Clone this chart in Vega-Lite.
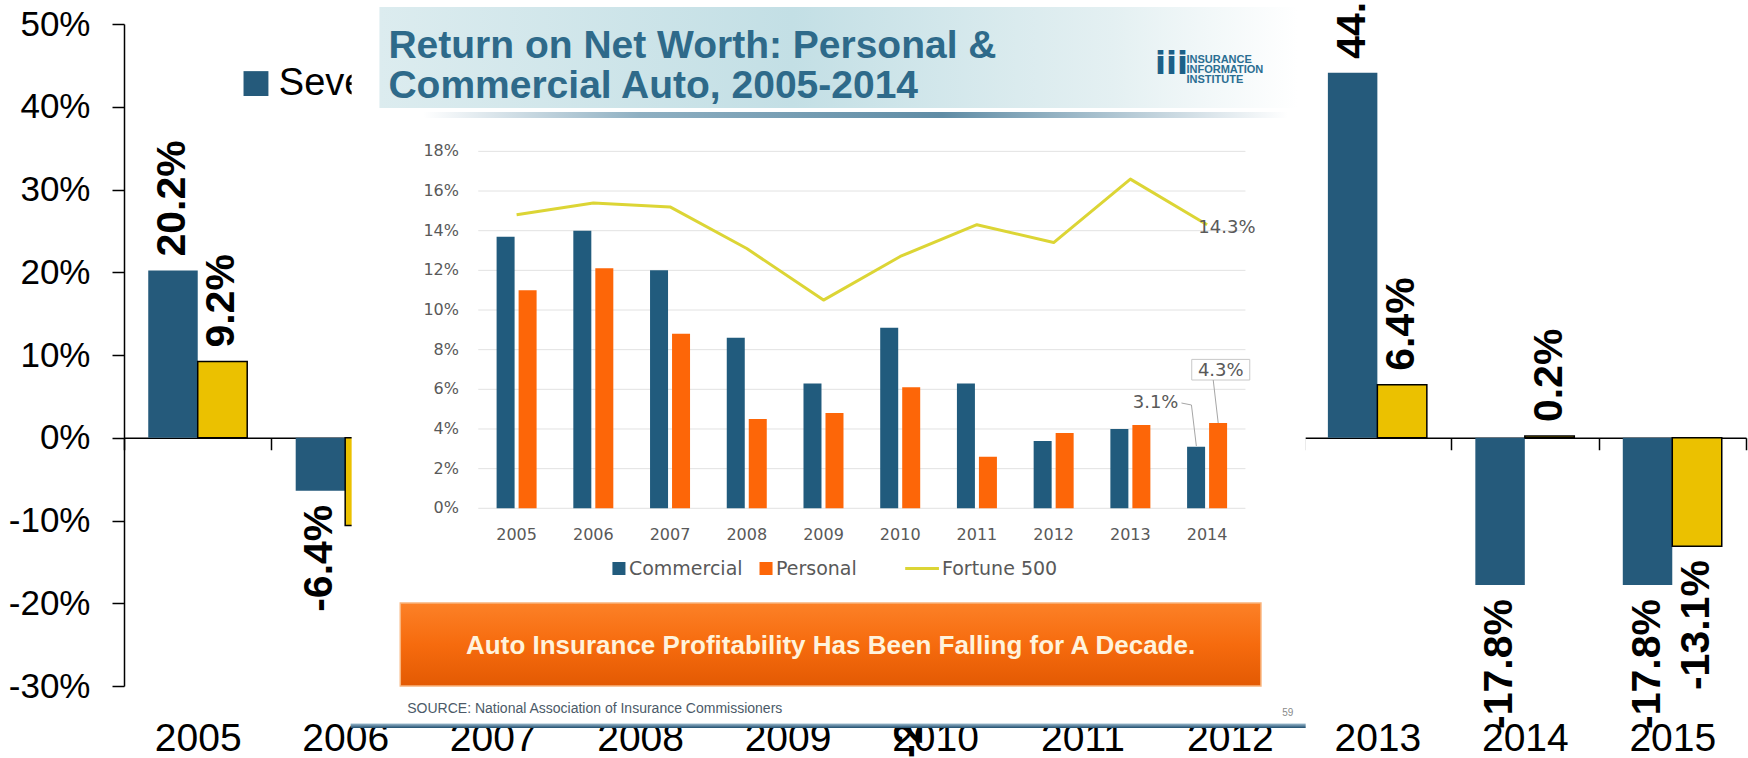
{
  "$schema": "https://vega.github.io/schema/vega-lite/v6.json",
  "width": 1622,
  "height": 662,
  "autosize": {"type": "none"},
  "padding": {"left": 124, "top": 24, "right": 2, "bottom": 72},
  "background": "#ffffff",
  "config": {"view": {"stroke": null}, "font": "Liberation Sans"},
  "datasets": {
    "bg": [
      {"year": "2005", "series": "Severity", "value": 20.2},
      {"year": "2005", "series": "Frequency", "value": 9.2},
      {"year": "2006", "series": "Severity", "value": -6.4},
      {"year": "2006", "series": "Frequency", "value": -10.6},
      {"year": "2010", "series": "Severity", "value": -21.3},
      {"year": "2013", "series": "Severity", "value": 44.1},
      {"year": "2013", "series": "Frequency", "value": 6.4},
      {"year": "2014", "series": "Severity", "value": -17.8},
      {"year": "2014", "series": "Frequency", "value": 0.2},
      {"year": "2015", "series": "Severity", "value": -17.8},
      {"year": "2015", "series": "Frequency", "value": -13.1}
    ],
    "auto": [
      {"year": 2005, "commercial": 13.7, "personal": 11.0, "fortune": 14.8},
      {"year": 2006, "commercial": 14.0, "personal": 12.1, "fortune": 15.4},
      {"year": 2007, "commercial": 12.0, "personal": 8.8, "fortune": 15.2},
      {"year": 2008, "commercial": 8.6, "personal": 4.5, "fortune": 13.1},
      {"year": 2009, "commercial": 6.3, "personal": 4.8, "fortune": 10.5},
      {"year": 2010, "commercial": 9.1, "personal": 6.1, "fortune": 12.7},
      {"year": 2011, "commercial": 6.3, "personal": 2.6, "fortune": 14.3},
      {"year": 2012, "commercial": 3.4, "personal": 3.8, "fortune": 13.4},
      {"year": 2013, "commercial": 4.0, "personal": 4.2, "fortune": 16.6},
      {"year": 2014, "commercial": 3.1, "personal": 4.3, "fortune": 14.3}
    ],
    "grid": [
      {"pct": 0}, {"pct": 2}, {"pct": 4}, {"pct": 6}, {"pct": 8},
      {"pct": 10}, {"pct": 12}, {"pct": 14}, {"pct": 16}, {"pct": 18}
    ]
  },
  "resolve": {"scale": {"x": "independent", "y": "independent", "color": "independent"}},
  "layer": [
    {
      "data": {"name": "bg"},
      "layer": [
        {
          "mark": {"type": "bar", "stroke": "#000000"},
          "encoding": {
            "x": {
              "field": "year", "type": "nominal",
              "scale": {"domain": ["2005", "2006", "2007", "2008", "2009", "2010", "2011", "2012", "2013", "2014", "2015"], "paddingInner": 0, "paddingOuter": 0},
              "axis": {"title": null, "orient": "bottom", "offset": -248.25, "labelAngle": 0, "labelFontSize": 39, "labelColor": "#000000", "labelFont": "Liberation Sans", "labelBaseline": "alphabetic", "labelPadding": 301, "tickBand": "extent", "tickSize": 12, "tickColor": "#000000", "tickWidth": 1.5, "domainColor": "#000000", "domainWidth": 1.5, "grid": false, "zindex": 0}
            },
            "xOffset": {"field": "series", "type": "nominal", "scale": {"domain": ["Severity", "Frequency"], "paddingInner": 0, "paddingOuter": 0.49}},
            "y": {
              "field": "value", "type": "quantitative",
              "scale": {"domain": [-30, 50], "nice": false, "zero": false},
              "axis": {"title": null, "values": [-30, -20, -10, 0, 10, 20, 30, 40, 50], "labelExpr": "datum.value + '%'", "labelFontSize": 35, "labelColor": "#000000", "labelFont": "Liberation Sans", "labelPadding": 22, "tickSize": 12, "tickColor": "#000000", "tickWidth": 1.5, "domainColor": "#000000", "domainWidth": 1.5, "grid": false, "zindex": 0}
            },
            "color": {"field": "series", "type": "nominal", "scale": {"domain": ["Severity", "Frequency"], "range": ["#255a7b", "#ebc100"]}, "legend": null},
            "strokeWidth": {"field": "series", "type": "nominal", "scale": {"domain": ["Severity", "Frequency"], "range": [0, 1.5]}, "legend": null}
          }
        },
        {
          "transform": [{"filter": "datum.value >= 0"}, {"calculate": "toString(datum.value) + '%'", "as": "label"}],
          "mark": {"type": "text", "angle": 270, "align": "left", "baseline": "middle", "dx": 14, "fontSize": 41, "fontWeight": "bold", "color": "#000000", "font": "Liberation Sans"},
          "encoding": {
            "x": {"field": "year", "type": "nominal"},
            "xOffset": {"field": "series", "type": "nominal"},
            "y": {"field": "value", "type": "quantitative"},
            "text": {"field": "label", "type": "nominal"}
          }
        },
        {
          "transform": [{"filter": "datum.value < 0"}, {"calculate": "toString(datum.value) + '%'", "as": "label"}],
          "mark": {"type": "text", "angle": 270, "align": "right", "baseline": "middle", "dx": -14, "fontSize": 41, "fontWeight": "bold", "color": "#000000", "font": "Liberation Sans"},
          "encoding": {
            "x": {"field": "year", "type": "nominal"},
            "xOffset": {"field": "series", "type": "nominal"},
            "y": {"field": "value", "type": "quantitative"},
            "text": {"field": "label", "type": "nominal"}
          }
        },
        {
          "data": {"values": [{}]},
          "mark": {"type": "square", "size": 620, "color": "#255a7b", "opacity": 1, "filled": true},
          "encoding": {
            "x": {"datum": "2005", "type": "nominal", "bandPosition": 0.895},
            "y": {"datum": 42.8, "type": "quantitative"}
          }
        },
        {
          "data": {"values": [{}]},
          "mark": {"type": "text", "text": "Severity", "align": "left", "baseline": "middle", "fontSize": 38, "color": "#000000", "font": "Liberation Sans"},
          "encoding": {
            "x": {"datum": "2006", "type": "nominal", "bandPosition": 0.05},
            "y": {"datum": 42.7, "type": "quantitative"}
          }
        }
      ]
    },
    {
      "layer": [
        {
          "data": {"values": [{}]},
          "mark": {"type": "rect", "fill": "#ffffff", "strokeWidth": 0},
          "encoding": {
            "x": {"datum": 2002.85, "type": "quantitative", "scale": {"domain": [1999.948, 2020.959], "nice": false, "zero": false}, "axis": null},
            "x2": {"datum": 2015.285},
            "y": {"datum": 25.9, "type": "quantitative", "scale": {"domain": [-8.961, 24.423], "nice": false, "zero": false}, "axis": null},
            "y2": {"datum": -11.08}
          }
        },
        {
          "data": {"values": [{}]},
          "mark": {"type": "rect", "strokeWidth": 0, "fill": {"gradient": "linear", "x1": 0, "y1": 0, "x2": 1, "y2": 0, "stops": [{"offset": 0, "color": "#dcecef"}, {"offset": 0.45, "color": "#c3dfe5"}, {"offset": 0.8, "color": "#e4f0f2"}, {"offset": 1, "color": "#ffffff"}]}},
          "encoding": {
            "x": {"datum": 2003.212, "type": "quantitative", "axis": null},
            "x2": {"datum": 2015.182},
            "y": {"datum": 25.28, "type": "quantitative", "axis": null},
            "y2": {"datum": 20.19}
          }
        },
        {
          "data": {"values": [{}]},
          "mark": {"type": "rect", "strokeWidth": 0, "fill": {"gradient": "linear", "x1": 0, "y1": 0, "x2": 1, "y2": 0, "stops": [{"offset": 0, "color": "#ffffff"}, {"offset": 0.25, "color": "#8fb0c2"}, {"offset": 0.6, "color": "#5f8ca5"}, {"offset": 1, "color": "#ffffff"}]}},
          "encoding": {
            "x": {"datum": 2003.782, "type": "quantitative", "axis": null},
            "x2": {"datum": 2015.052},
            "y": {"datum": 19.985, "type": "quantitative", "axis": null},
            "y2": {"datum": 19.682}
          }
        },
        {
          "data": {"values": [{}]},
          "mark": {"type": "text", "text": "Return on Net Worth: Personal &", "align": "left", "baseline": "alphabetic", "fontSize": 39, "fontWeight": "bold", "color": "#2e6a8a", "font": "Liberation Sans"},
          "encoding": {
            "x": {"datum": 2003.329, "type": "quantitative", "axis": null},
            "y": {"datum": 22.71, "type": "quantitative", "axis": null}
          }
        },
        {
          "data": {"values": [{}]},
          "mark": {"type": "text", "text": "Commercial Auto, 2005-2014", "align": "left", "baseline": "alphabetic", "fontSize": 39, "fontWeight": "bold", "color": "#2e6a8a", "font": "Liberation Sans"},
          "encoding": {
            "x": {"datum": 2003.329, "type": "quantitative", "axis": null},
            "y": {"datum": 20.69, "type": "quantitative", "axis": null}
          }
        },
        {
          "data": {"values": [{}]},
          "mark": {"type": "text", "text": "iii", "align": "center", "baseline": "alphabetic", "fontSize": 32, "fontWeight": "bold", "color": "#1c6088", "font": "DejaVu Sans"},
          "encoding": {
            "x": {"datum": 2013.536, "type": "quantitative", "axis": null},
            "y": {"datum": 21.9, "type": "quantitative", "axis": null}
          }
        },
        {
          "data": {"values": [{}]},
          "mark": {"type": "text", "text": ["INSURANCE", "INFORMATION", "INSTITUTE"], "lineHeight": 10, "align": "left", "baseline": "middle", "fontSize": 11, "fontWeight": "bold", "color": "#2a6e92", "font": "Liberation Sans"},
          "encoding": {
            "x": {"datum": 2013.731, "type": "quantitative", "axis": null},
            "y": {"datum": 22.61, "type": "quantitative", "axis": null}
          }
        },
        {
          "data": {"name": "grid"},
          "mark": {"type": "rule", "color": "#e2e2e2", "strokeWidth": 1},
          "encoding": {
            "x": {"datum": 2004.5, "type": "quantitative", "axis": null},
            "x2": {"datum": 2014.5},
            "y": {"field": "pct", "type": "quantitative", "axis": null}
          }
        },
        {
          "data": {"name": "grid"},
          "transform": [{"calculate": "datum.pct + '%'", "as": "label"}],
          "mark": {"type": "text", "align": "right", "baseline": "middle", "fontSize": 16, "color": "#595959", "font": "DejaVu Sans"},
          "encoding": {
            "x": {"datum": 2004.249, "type": "quantitative", "axis": null},
            "y": {"field": "pct", "type": "quantitative", "axis": null},
            "text": {"field": "label", "type": "nominal"}
          }
        },
        {
          "data": {"name": "auto"},
          "mark": {"type": "bar", "width": 18, "xOffset": -11, "color": "#215b7d"},
          "encoding": {
            "x": {"field": "year", "type": "quantitative", "scale": {"domain": [1999.948, 2020.959], "nice": false, "zero": false}, "axis": null},
            "y": {"field": "commercial", "type": "quantitative", "scale": {"domain": [-8.961, 24.423], "nice": false, "zero": false}, "axis": null}
          }
        },
        {
          "data": {"name": "auto"},
          "mark": {"type": "bar", "width": 18, "xOffset": 11, "color": "#fd6608"},
          "encoding": {
            "x": {"field": "year", "type": "quantitative", "axis": null},
            "y": {"field": "personal", "type": "quantitative", "axis": null}
          }
        },
        {
          "data": {"name": "auto"},
          "mark": {"type": "line", "color": "#dcd535", "strokeWidth": 3, "strokeJoin": "round"},
          "encoding": {
            "x": {"field": "year", "type": "quantitative", "axis": null},
            "y": {"field": "fortune", "type": "quantitative", "axis": null}
          }
        },
        {
          "data": {"name": "auto"},
          "mark": {"type": "text", "align": "center", "baseline": "middle", "fontSize": 16, "color": "#595959", "font": "DejaVu Sans"},
          "encoding": {
            "x": {"field": "year", "type": "quantitative", "axis": null},
            "y": {"datum": -1.35, "type": "quantitative", "axis": null},
            "text": {"field": "year", "type": "nominal"}
          }
        },
        {
          "data": {"values": [{}]},
          "mark": {"type": "text", "text": "14.3%", "align": "left", "baseline": "middle", "fontSize": 18, "color": "#595959", "font": "DejaVu Sans"},
          "encoding": {
            "x": {"datum": 2013.886, "type": "quantitative", "axis": null},
            "y": {"datum": 14.13, "type": "quantitative", "axis": null}
          }
        },
        {
          "data": {"values": [{}]},
          "mark": {"type": "text", "text": "3.1%", "align": "right", "baseline": "middle", "fontSize": 18, "color": "#595959", "font": "DejaVu Sans"},
          "encoding": {
            "x": {"datum": 2013.627, "type": "quantitative", "axis": null},
            "y": {"datum": 5.31, "type": "quantitative", "axis": null}
          }
        },
        {
          "data": {"values": [{}]},
          "mark": {"type": "rule", "color": "#a6a6a6", "strokeWidth": 1},
          "encoding": {
            "x": {"datum": 2013.666, "type": "quantitative", "axis": null},
            "x2": {"datum": 2013.796},
            "y": {"datum": 5.31, "type": "quantitative", "axis": null},
            "y2": {"datum": 5.21}
          }
        },
        {
          "data": {"values": [{}]},
          "mark": {"type": "rule", "color": "#a6a6a6", "strokeWidth": 1},
          "encoding": {
            "x": {"datum": 2013.796, "type": "quantitative", "axis": null},
            "x2": {"datum": 2013.86},
            "y": {"datum": 5.21, "type": "quantitative", "axis": null},
            "y2": {"datum": 3.14}
          }
        },
        {
          "data": {"values": [{}]},
          "mark": {"type": "rect", "fill": "#ffffff", "stroke": "#c8c8c8", "strokeWidth": 1},
          "encoding": {
            "x": {"datum": 2013.8, "type": "quantitative", "axis": null},
            "x2": {"datum": 2014.556},
            "y": {"datum": 7.51, "type": "quantitative", "axis": null},
            "y2": {"datum": 6.47}
          }
        },
        {
          "data": {"values": [{}]},
          "mark": {"type": "text", "text": "4.3%", "align": "center", "baseline": "middle", "fontSize": 18, "color": "#595959", "font": "DejaVu Sans"},
          "encoding": {
            "x": {"datum": 2014.178, "type": "quantitative", "axis": null},
            "y": {"datum": 6.92, "type": "quantitative", "axis": null}
          }
        },
        {
          "data": {"values": [{}]},
          "mark": {"type": "rule", "color": "#a6a6a6", "strokeWidth": 1},
          "encoding": {
            "x": {"datum": 2014.08, "type": "quantitative", "axis": null},
            "x2": {"datum": 2014.145},
            "y": {"datum": 6.47, "type": "quantitative", "axis": null},
            "y2": {"datum": 4.3}
          }
        },
        {
          "data": {"values": [{}]},
          "mark": {"type": "square", "size": 170, "color": "#215b7d", "opacity": 1, "filled": true},
          "encoding": {
            "x": {"datum": 2006.334, "type": "quantitative", "axis": null},
            "y": {"datum": -3.036, "type": "quantitative", "axis": null}
          }
        },
        {
          "data": {"values": [{}]},
          "mark": {"type": "text", "text": "Commercial", "align": "left", "baseline": "middle", "fontSize": 19, "color": "#595959", "font": "DejaVu Sans"},
          "encoding": {
            "x": {"datum": 2006.464, "type": "quantitative", "axis": null},
            "y": {"datum": -3.086, "type": "quantitative", "axis": null}
          }
        },
        {
          "data": {"values": [{}]},
          "mark": {"type": "square", "size": 170, "color": "#fd6608", "opacity": 1, "filled": true},
          "encoding": {
            "x": {"datum": 2008.251, "type": "quantitative", "axis": null},
            "y": {"datum": -3.036, "type": "quantitative", "axis": null}
          }
        },
        {
          "data": {"values": [{}]},
          "mark": {"type": "text", "text": "Personal", "align": "left", "baseline": "middle", "fontSize": 19, "color": "#595959", "font": "DejaVu Sans"},
          "encoding": {
            "x": {"datum": 2008.381, "type": "quantitative", "axis": null},
            "y": {"datum": -3.086, "type": "quantitative", "axis": null}
          }
        },
        {
          "data": {"values": [{}]},
          "mark": {"type": "rule", "color": "#dcd535", "strokeWidth": 3},
          "encoding": {
            "x": {"datum": 2010.065, "type": "quantitative", "axis": null},
            "x2": {"datum": 2010.505},
            "y": {"datum": -3.036, "type": "quantitative", "axis": null}
          }
        },
        {
          "data": {"values": [{}]},
          "mark": {"type": "text", "text": "Fortune 500", "align": "left", "baseline": "middle", "fontSize": 19, "color": "#595959", "font": "DejaVu Sans"},
          "encoding": {
            "x": {"datum": 2010.544, "type": "quantitative", "axis": null},
            "y": {"datum": -3.086, "type": "quantitative", "axis": null}
          }
        },
        {
          "data": {"values": [{}]},
          "mark": {"type": "rect", "stroke": "#f9b47c", "strokeWidth": 1.5, "fill": {"gradient": "linear", "x1": 0, "y1": 0, "x2": 0, "y2": 1, "stops": [{"offset": 0, "color": "#fc8127"}, {"offset": 0.5, "color": "#f66b0e"}, {"offset": 1, "color": "#e35a03"}]}},
          "encoding": {
            "x": {"datum": 2003.484, "type": "quantitative", "axis": null},
            "x2": {"datum": 2014.702},
            "y": {"datum": -4.77, "type": "quantitative", "axis": null},
            "y2": {"datum": -8.96}
          }
        },
        {
          "data": {"values": [{}]},
          "mark": {"type": "text", "text": "Auto Insurance Profitability Has Been Falling for A Decade.", "align": "center", "baseline": "middle", "fontSize": 26, "fontWeight": "bold", "color": "#fff3dc", "font": "Liberation Sans"},
          "encoding": {
            "x": {"datum": 2009.093, "type": "quantitative", "axis": null},
            "y": {"datum": -6.92, "type": "quantitative", "axis": null}
          }
        },
        {
          "data": {"values": [{}]},
          "mark": {"type": "text", "text": "SOURCE: National Association of Insurance Commissioners", "align": "left", "baseline": "middle", "fontSize": 14, "color": "#4b5a68", "font": "Liberation Sans"},
          "encoding": {
            "x": {"datum": 2003.575, "type": "quantitative", "axis": null},
            "y": {"datum": -10.12, "type": "quantitative", "axis": null}
          }
        },
        {
          "data": {"values": [{}]},
          "mark": {"type": "text", "text": "59", "align": "center", "baseline": "middle", "fontSize": 10, "color": "#8a8a8a", "font": "Liberation Sans"},
          "encoding": {
            "x": {"datum": 2015.052, "type": "quantitative", "axis": null},
            "y": {"datum": -10.32, "type": "quantitative", "axis": null}
          }
        },
        {
          "data": {"values": [{}]},
          "mark": {"type": "rect", "strokeWidth": 0, "fill": {"gradient": "linear", "x1": 0, "y1": 0, "x2": 0, "y2": 1, "stops": [{"offset": 0, "color": "#9fbdd0"}, {"offset": 1, "color": "#1e4d6e"}]}},
          "encoding": {
            "x": {"datum": 2002.837, "type": "quantitative", "axis": null},
            "x2": {"datum": 2015.285},
            "y": {"datum": -10.852, "type": "quantitative", "axis": null},
            "y2": {"datum": -11.08}
          }
        }
      ]
    }
  ]
}
